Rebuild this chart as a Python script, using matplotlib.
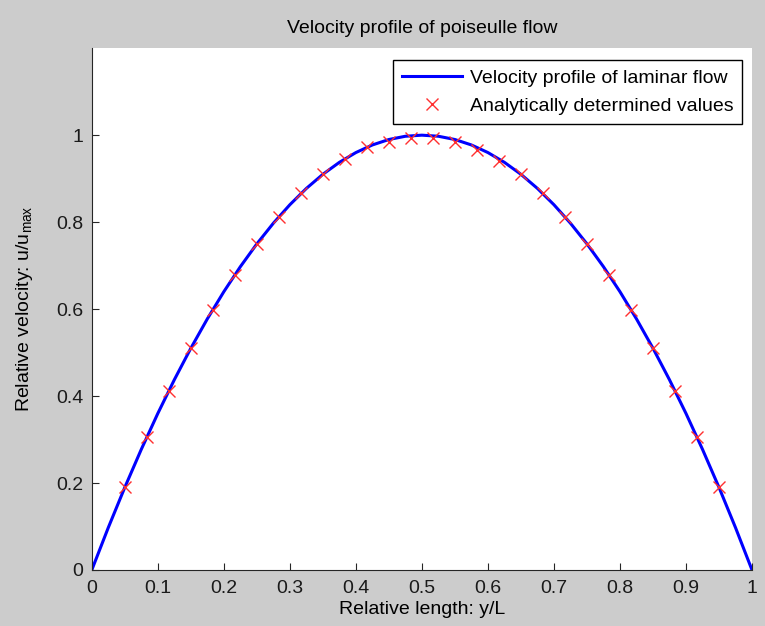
import numpy as np
import matplotlib
matplotlib.use("Agg")
import matplotlib.pyplot as plt

plt.rcParams['font.family'] = ['Liberation Sans', 'DejaVu Sans']
plt.rcParams['mathtext.default'] = 'regular'

# line: relative length vs relative velocity
line_x = [0.0, 0.025, 0.05, 0.075, 0.1, 0.125, 0.15, 0.175, 0.2, 0.225, 0.25,
          0.275, 0.3, 0.325, 0.35, 0.375, 0.4, 0.425, 0.45, 0.475, 0.5,
          0.525, 0.55, 0.575, 0.6, 0.625, 0.65, 0.675, 0.7, 0.725, 0.75,
          0.775, 0.8, 0.825, 0.85, 0.875, 0.9, 0.925, 0.95, 0.975, 1.0]
line_u = [0.0, 0.0975, 0.19, 0.2775, 0.36, 0.4375, 0.51, 0.5775, 0.64, 0.6975, 0.75,
          0.7975, 0.84, 0.8775, 0.91, 0.9375, 0.96, 0.9775, 0.99, 0.9975, 1.0,
          0.9975, 0.99, 0.9775, 0.96, 0.9375, 0.91, 0.8775, 0.84, 0.7975, 0.75,
          0.6975, 0.64, 0.5775, 0.51, 0.4375, 0.36, 0.2775, 0.19, 0.0975, 0.0]

# analytically determined points
pts_x = [0.05, 0.083, 0.117, 0.15, 0.183, 0.217, 0.25, 0.283, 0.317, 0.35,
         0.383, 0.417, 0.45, 0.483, 0.517, 0.55, 0.583, 0.617, 0.65, 0.683,
         0.717, 0.75, 0.783, 0.817, 0.85, 0.883, 0.917, 0.95]
pts_u = [0.19, 0.306, 0.412, 0.51, 0.599, 0.679, 0.75, 0.812, 0.866, 0.91,
         0.946, 0.972, 0.985, 0.993, 0.993, 0.985, 0.966, 0.94, 0.91, 0.866,
         0.812, 0.75, 0.679, 0.599, 0.51, 0.412, 0.306, 0.19]

fig = plt.figure(figsize=(7.65, 6.26), dpi=100, facecolor='#cccccc')
ax = fig.add_axes([0.120, 0.0895, 0.863, 0.8335])

ax.plot(line_x, line_u, color='#0000ff', lw=2.2, label='Velocity profile of laminar flow')
ax.plot(pts_x, pts_u, 'x', color='#ff3030', ms=9, mew=1.0,
        label='Analytically determined values')

ax.set_xlim(0, 1)
ax.set_ylim(0, 1.2)
ax.set_xticks(np.arange(0, 1.01, 0.1))
ax.set_xticklabels(['0', '0.1', '0.2', '0.3', '0.4', '0.5', '0.6', '0.7', '0.8', '0.9', '1'])
ax.set_yticks([0, 0.2, 0.4, 0.6, 0.8, 1.0])
ax.set_yticklabels(['0', '0.2', '0.4', '0.6', '0.8', '1'])
ax.tick_params(direction='in', length=5, labelsize=14, color='#262626', labelcolor='#1a1a1a')
ax.tick_params(axis='x', pad=7)
ax.tick_params(axis='y', pad=6)

for s in ['top', 'right']:
    ax.spines[s].set_visible(False)
for s in ['left', 'bottom']:
    ax.spines[s].set_color('#262626')

ax.set_title('Velocity profile of poiseulle flow', fontsize=14, pad=11)
ax.set_xlabel('Relative length: y/L', fontsize=14, labelpad=3)
ax.set_ylabel('Relative velocity: u/u$_{max}$', fontsize=14, labelpad=15)

leg = ax.legend(loc='upper right', fontsize=14, fancybox=False, framealpha=1,
                edgecolor='black', handlelength=3.1, handletextpad=0.4,
                borderpad=0.45, labelspacing=0.55, borderaxespad=0,
                bbox_to_anchor=(0.985, 0.977))
leg.get_frame().set_linewidth(1.0)

fig.savefig('out.png', dpi=100, facecolor=fig.get_facecolor())
